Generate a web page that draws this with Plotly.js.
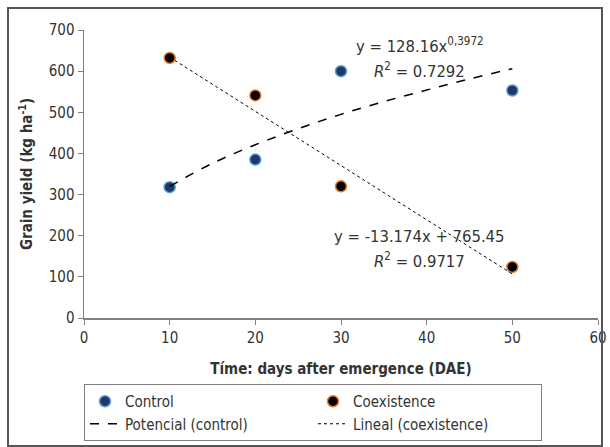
<!DOCTYPE html>
<html>
<head>
<meta charset="utf-8">
<script src="https://cdn.plot.ly/plotly-3.0.1.min.js"></script>
<style>html,body{margin:0;padding:0;background:#fff}#chart{width:610px;height:447px}</style>
</head>
<body>
<div id="chart"></div>
<script>
// Data
const days = [10, 20, 30, 50];
const controlYield = [318, 385, 600, 553];
const coexistenceYield = [632, 541, 320, 124];
// Trend lines
const powerTrendX = [10, 15, 20, 25, 30, 35, 40, 45, 50];
const powerTrendY = [320, 376, 421, 460, 495, 526, 554, 581, 606];
const linearTrendX = [10, 50];
const linearTrendY = [634, 107];
const xTicks = [0, 10, 20, 30, 40, 50, 60];
const yTicks = [0, 100, 200, 300, 400, 500, 600, 700];

const FONT = '"DejaVu Sans Condensed", "Liberation Sans", sans-serif';
const TXT = '#333333';

const traces = [
  {x: days, y: controlYield, type: 'scatter', mode: 'markers', name: 'Control',
   marker: {size: 11, color: '#1f3864', line: {color: '#5b9bd5', width: 1.5}}},
  {x: days, y: coexistenceYield, type: 'scatter', mode: 'markers', name: 'Coexistence',
   marker: {size: 11, color: '#000000', line: {color: '#ed7d31', width: 1.5}}},
  {x: powerTrendX, y: powerTrendY, type: 'scatter', mode: 'lines', name: 'Potencial (control)',
   line: {color: '#000', width: 1.5, dash: 'dash', shape: 'spline'}},
  {x: linearTrendX, y: linearTrendY, type: 'scatter', mode: 'lines', name: 'Lineal (coexistence)',
   line: {color: '#000', width: 1, dash: 'dot'}}
];

const layout = {
  width: 610, height: 447,
  margin: {l: 84, r: 12, t: 30, b: 129},
  paper_bgcolor: '#fff', plot_bgcolor: '#fff',
  font: {family: FONT, color: TXT, size: 15},
  showlegend: true,
  legend: {
    orientation: 'h', xref: 'paper', x: 0, xanchor: 'left',
    yref: 'container', y: 1 - 384 / 447, yanchor: 'top',
    bordercolor: '#808080', borderwidth: 1, entrywidth: 183,
    font: {family: FONT, size: 15, color: TXT}, tracegroupgap: 0
  },
  xaxis: {
    range: [0, 60], tickvals: xTicks, showgrid: false, zeroline: false, automargin: false,
    showline: true, linecolor: '#808080', linewidth: 1.5,
    ticks: 'outside', ticklen: 5, tickcolor: '#808080',
    tickfont: {family: FONT, size: 15, color: TXT},
    title: {text: '<b>Tíme: days after emergence (DAE)</b>', font: {family: FONT, size: 15, color: TXT}, standoff: 18}
  },
  yaxis: {
    range: [0, 700], tickvals: yTicks, showgrid: false, zeroline: false, automargin: false,
    showline: true, linecolor: '#808080', linewidth: 1.5,
    ticks: 'outside', ticklen: 5, tickcolor: '#808080',
    tickfont: {family: FONT, size: 15, color: TXT},
    title: {text: '<b>Grain yield (kg ha<sup>-1</sup>)</b>', font: {family: FONT, size: 15, color: TXT}, standoff: 12}
  },
  annotations: [
    {x: 39.2, y: 664, xref: 'x', yref: 'y', showarrow: false, text: 'y = 128.16x<sup>0,3972</sup>', font: {size: 16.5}},
    {x: 39.2, y: 603, xref: 'x', yref: 'y', showarrow: false, text: '<i>R</i><sup>2</sup> = 0.7292', font: {size: 16.5}},
    {x: 39.2, y: 197, xref: 'x', yref: 'y', showarrow: false, text: 'y = -13.174x + 765.45', font: {size: 16.5}},
    {x: 39.2, y: 141, xref: 'x', yref: 'y', showarrow: false, text: '<i>R</i><sup>2</sup> = 0.9717', font: {size: 16.5}}
  ],
  shapes: [
    {type: 'rect', xref: 'paper', yref: 'paper',
     x0: (8 - 84) / 514, x1: (602 - 84) / 514, y0: (318 - 446) / 288, y1: (318 - 8) / 288,
     line: {color: '#555', width: 2}}
  ]
};

Plotly.newPlot('chart', traces, layout, {displayModeBar: false, staticPlot: true});
</script>
</body>
</html>
